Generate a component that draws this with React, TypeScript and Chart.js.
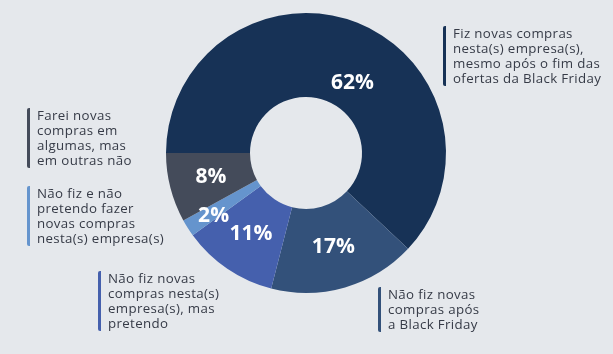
import React, { useEffect, useRef } from "react";
import { Chart, registerables } from "chart.js";

Chart.register(...registerables);

const categories = [
  "Fiz novas compras nesta(s) empresa(s), mesmo após o fim das ofertas da Black Friday",
  "Não fiz novas compras após a Black Friday",
  "Não fiz novas compras nesta(s) empresa(s), mas pretendo",
  "Não fiz e não pretendo fazer novas compras nesta(s) empresa(s)",
  "Farei novas compras em algumas, mas em outras não",
];
const values = [62, 17, 11, 2, 8];
const valueLabels = ["62%", "17%", "11%", "2%", "8%"];
const colors = ["#173256", "#33517a", "#4560ad", "#6594cd", "#444b5a"];
// label placement tweaks: [radius offset px, angle offset deg]
const labelShift = [[-14, 12], [0, 0], [0, 0], [14, -2], [0, 0]];

const legendLines = [
  ["Fiz novas compras", "nesta(s) empresa(s),", "mesmo após o fim das", "ofertas da Black Friday"],
  ["Não fiz novas", "compras após", "a Black Friday"],
  ["Não fiz novas", "compras nesta(s)", "empresa(s), mas", "pretendo"],
  ["Não fiz e não", "pretendo fazer", "novas compras", "nesta(s) empresa(s)"],
  ["Farei novas", "compras em", "algumas, mas", "em outras não"],
];
const legendPos = [
  { left: 443, top: 26 },
  { left: 378, top: 287 },
  { left: 98, top: 271 },
  { left: 27, top: 186 },
  { left: 27, top: 108 },
];

const labelPlugin = {
  id: "pctLabels",
  afterDatasetsDraw(chart: any) {
    const ctx = chart.ctx;
    const meta = chart.getDatasetMeta(0);
    ctx.save();
    ctx.fillStyle = "#ffffff";
    ctx.font = "bold 21px 'Open Sans'";
    ctx.textAlign = "center";
    ctx.textBaseline = "middle";
    meta.data.forEach((arc: any, i: number) => {
      const p = arc.getProps(["x", "y", "startAngle", "endAngle", "innerRadius", "outerRadius"], true);
      const a = (p.startAngle + p.endAngle) / 2 + (labelShift[i][1] * Math.PI) / 180;
      const r = (p.innerRadius + p.outerRadius) / 2 + labelShift[i][0];
      ctx.fillText(valueLabels[i], p.x + Math.cos(a) * r, p.y + Math.sin(a) * r);
    });
    ctx.restore();
  },
};

export default function App() {
  const ref = useRef<HTMLCanvasElement>(null);
  useEffect(() => {
    const chart = new Chart(ref.current!, {
      type: "doughnut",
      data: {
        labels: categories,
        datasets: [{ data: values, backgroundColor: colors, borderWidth: 0 }],
      },
      options: {
        responsive: false,
        animation: false,
        rotation: 270,
        cutout: "40%",
        layout: { padding: { left: 166, right: 167, top: 13, bottom: 61 } },
        plugins: { legend: { display: false }, tooltip: { enabled: false } },
      },
      plugins: [labelPlugin],
    });
    return () => chart.destroy();
  }, []);

  return (
    <div style={{ position: "fixed", left: 0, top: 0, width: 613, height: 354, background: "#e5e8ec", overflow: "hidden" }}>
      <canvas ref={ref} width={613} height={354} style={{ position: "absolute", left: 0, top: 0 }} />
      {legendLines.map((lines, i) => (
        <div
          key={i}
          style={{
            position: "absolute",
            left: legendPos[i].left,
            top: legendPos[i].top,
            borderLeft: `3px solid ${colors[i]}`,
            borderRadius: 2,
            paddingLeft: 7,
            fontFamily: "'Open Sans', sans-serif",
            fontSize: 13.3,
            letterSpacing: 0.35,
            lineHeight: "15px",
            color: "#363b47",
            whiteSpace: "nowrap",
          }}
        >
          {lines.map((l, j) => (
            <div key={j}>{l}</div>
          ))}
        </div>
      ))}
    </div>
  );
}
